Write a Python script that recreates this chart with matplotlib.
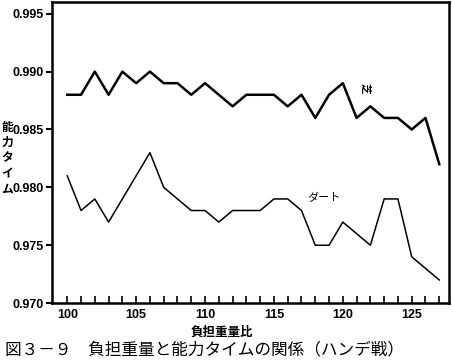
import numpy as np
import matplotlib
matplotlib.use('Agg')
import matplotlib.pyplot as plt

plt.rcParams['font.family'] = ['Noto Sans CJK JP', 'DejaVu Sans']

# 負担重量比
weight_ratio = list(range(100, 128))

# 芝
turf = [0.988, 0.988, 0.990, 0.988, 0.990, 0.989, 0.990, 0.989, 0.989, 0.988,
        0.989, 0.988, 0.987, 0.988, 0.988, 0.988, 0.987, 0.988, 0.986, 0.988,
        0.989, 0.986, 0.987, 0.986, 0.986, 0.985, 0.986, 0.982]

# ダート
dirt = [0.981, 0.978, 0.979, 0.977, 0.979, 0.981, 0.983, 0.980, 0.979, 0.978,
        0.978, 0.977, 0.978, 0.978, 0.978, 0.979, 0.979, 0.978, 0.975, 0.975,
        0.977, 0.976, 0.975, 0.979, 0.979, 0.974, 0.973, 0.972]

y_ticks = [0.970, 0.975, 0.980, 0.985, 0.990, 0.995]
x_ticks = [100, 105, 110, 115, 120, 125]

fig = plt.figure(figsize=(4.53, 3.6), dpi=100)
ax = fig.add_axes([0.115, 0.158, 0.876, 0.836])

ax.plot(weight_ratio, turf, color='black', lw=1.8)
ax.plot(weight_ratio, dirt, color='black', lw=1.1)

ax.text(121.6, 0.9886, '芝', fontsize=7.5, fontweight='bold', rotation=270,
        ha='center', va='center')
ax.text(118.6, 0.9791, 'ダート', fontsize=8, ha='center', va='center')

tick_font = dict(family='Liberation Sans', fontsize=9, fontweight='bold')
ax.set_xlim(98.9, 127.7)
ax.set_ylim(0.970, 0.996)
ax.set_yticks(y_ticks)
ax.set_yticklabels([f'{v:.3f}' for v in y_ticks], **tick_font)
ax.set_xticks(x_ticks)
ax.set_xticklabels([str(v) for v in x_ticks], **tick_font)
ax.set_xticks(weight_ratio, minor=True)
ax.tick_params(axis='x', which='both', direction='in', length=5, width=1.2, pad=4)
ax.tick_params(axis='y', direction='out', length=4, width=1.5, pad=2)
for s in ax.spines.values():
    s.set_linewidth(1.8)

fig.text(222 / 453, 1 - 332 / 360, '負担重量比', fontsize=9, fontweight='bold',
         ha='center', va='center')
fig.text(0.016, 1 - 158 / 360, '能\n力\nタ\nイ\nム', fontsize=8.5, fontweight='bold',
         ha='center', va='center', linespacing=1.25)
fig.text(0.01, 0.028, '図３－９　負担重量と能力タイムの関係（ハンデ戦）', fontsize=12,
         ha='left', va='center')

fig.savefig('out.png', dpi=100)
